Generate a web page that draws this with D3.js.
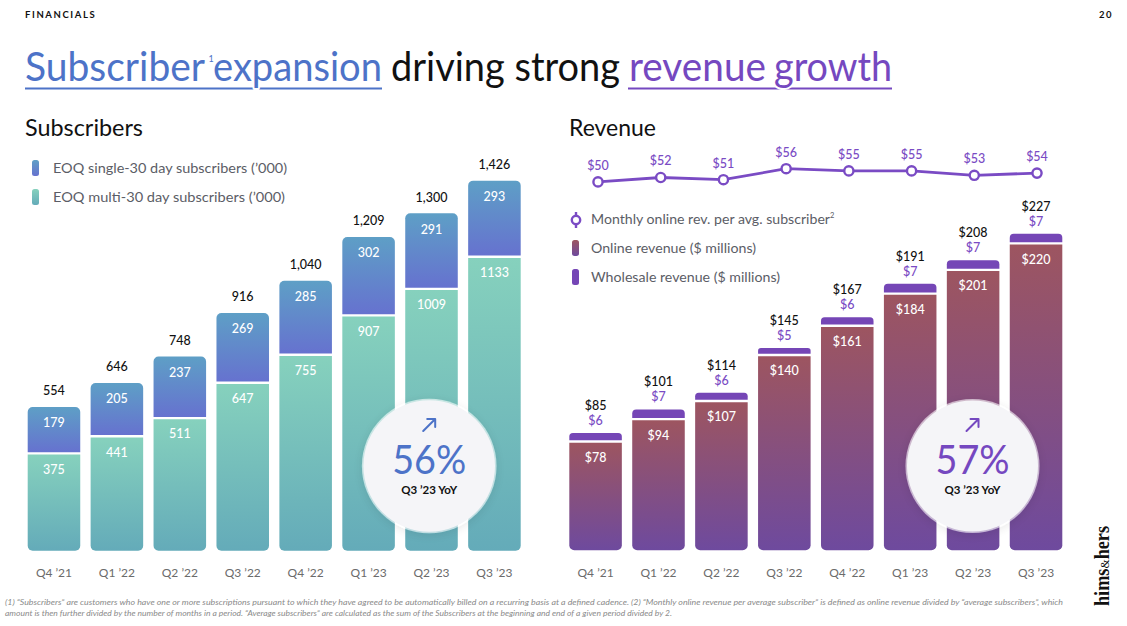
<!DOCTYPE html>
<html>
<head>
<meta charset="utf-8">
<script src="https://cdn.jsdelivr.net/npm/d3@7"></script>
<style>
  html, body { margin: 0; padding: 0; background: #fff; }
  svg { display: block; font-family: "Lato", "Noto Sans", sans-serif; }
</style>
</head>
<body>
<svg id="chart" width="1127" height="626"></svg>
<script>
// ---------- DATA ----------
const quarters = ["Q4 ’21", "Q1 ’22", "Q2 ’22", "Q3 ’22", "Q4 ’22", "Q1 ’23", "Q2 ’23", "Q3 ’23"];
const multi30 = [375, 441, 511, 647, 755, 907, 1009, 1133];
const single30 = [179, 205, 237, 269, 285, 302, 291, 293];
const subTotals = [554, 646, 748, 916, 1040, 1209, 1300, 1426];
const onlineRev = [78, 94, 107, 140, 161, 184, 201, 220];
const wholesaleRev = [6, 7, 6, 5, 6, 7, 7, 7];
const revTotals = [85, 101, 114, 145, 167, 191, 208, 227];
const revPerSub = [50, 52, 51, 56, 55, 55, 53, 54];
const subYoY = "56%";
const revYoY = "57%";

// ---------- SETUP ----------
const svg = d3.select("#chart");
const defs = svg.append("defs");
const BLUE = "#4d73c8", PURPLE = "#7548c0", LINEP = "#7a4bc4";

function grad(id, top, bot) {
  const g = defs.append("linearGradient").attr("id", id)
    .attr("x1", 0).attr("y1", 0).attr("x2", 0).attr("y2", 1);
  g.append("stop").attr("offset", "0%").attr("stop-color", top);
  g.append("stop").attr("offset", "100%").attr("stop-color", bot);
}
grad("gSingle", "#5e9fc6", "#6672cf");
grad("gMulti", "#86d1bd", "#64abb9");
grad("gOnline", "#9d5560", "#6e4a9e");
const sh = defs.append("filter").attr("id", "shadow").attr("x", "-30%").attr("y", "-30%").attr("width", "160%").attr("height", "160%");
sh.append("feDropShadow").attr("dx", 0).attr("dy", 2).attr("stdDeviation", 5)
  .attr("flood-color", "#000").attr("flood-opacity", 0.15);

function rpath(x, y, w, h, rt, rb) {
  rt = Math.min(rt, h / 2); rb = Math.min(rb, h / 2);
  return `M${x},${y + rt}` +
    (rt ? `A${rt},${rt} 0 0 1 ${x + rt},${y}` : "") +
    `H${x + w - rt}` +
    (rt ? `A${rt},${rt} 0 0 1 ${x + w},${y + rt}` : "") +
    `V${y + h - rb}` +
    (rb ? `A${rb},${rb} 0 0 1 ${x + w - rb},${y + h}` : "") +
    `H${x + rb}` +
    (rb ? `A${rb},${rb} 0 0 1 ${x},${y + h - rb}` : "") + "Z";
}

function fit(sel, w) {
  sel.attr("textLength", w).attr("lengthAdjust", "spacingAndGlyphs");
  return sel;
}

// ---------- HEADER ----------
svg.append("text").attr("x", 25).attr("y", 18).text("FINANCIALS")
  .attr("font-size", 9.5).attr("font-weight", 700).attr("fill", "#111")
  .attr("letter-spacing", 1.6);
svg.append("text").attr("x", 1113).attr("y", 18).attr("text-anchor", "end").text("20")
  .attr("font-size", 9.5).attr("font-weight", 700).attr("fill", "#111").attr("letter-spacing", 1.5);

// Title
const tY = 81;
svg.append("rect").attr("x", 25).attr("y", 87.5).attr("width", 357).attr("height", 2).attr("fill", BLUE);
svg.append("rect").attr("x", 628).attr("y", 87.5).attr("width", 264).attr("height", 2).attr("fill", PURPLE);
const titleParts = [
  { t: "Subscriber", x: 25, w: 180, c: BLUE },
  { t: "expansion", x: 213, w: 169, c: BLUE },
  { t: "driving strong", x: 391, w: 229, c: "#111" },
  { t: "revenue", x: 629, w: 137, c: PURPLE },
  { t: "growth", x: 774, w: 118, c: PURPLE }
];
titleParts.forEach(p => {
  fit(svg.append("text").attr("x", p.x).attr("y", tY).text(p.t)
    .attr("font-size", 40).attr("font-weight", 400).attr("fill", p.c)
    .attr("stroke", "#fff").attr("stroke-width", 4).attr("paint-order", "stroke")
    .attr("stroke-linejoin", "round"), p.w);
});
svg.append("text").attr("x", 208.5).attr("y", 62).text("1").attr("font-size", 9).attr("fill", BLUE);

// Section titles
fit(svg.append("text").attr("x", 25).attr("y", 136).text("Subscribers")
  .attr("font-size", 23).attr("font-weight", 400).attr("fill", "#111"), 118);
fit(svg.append("text").attr("x", 569).attr("y", 136).text("Revenue")
  .attr("font-size", 23).attr("font-weight", 400).attr("fill", "#111"), 87);

// ---------- SUBSCRIBERS CHART ----------
const xS = d3.scaleBand().domain(quarters).range([27.7, 520.7]).paddingInner(0.165).paddingOuter(0);
const yS = d3.scaleLinear().domain([0, 1426]).range([550.7, 550.7 - 1426 * 0.2595]);
const R = 5, GAP = 1.2;

const gS = svg.append("g");
quarters.forEach((q, i) => {
  const x = xS(q), w = xS.bandwidth();
  const yb = yS(multi30[i]);
  gS.append("path").attr("d", rpath(x, yb + GAP, w, yS(0) - yb - GAP, 0, R)).attr("fill", "url(#gMulti)");
  const yt = yS(multi30[i] + single30[i]);
  gS.append("path").attr("d", rpath(x, yt, w, yb - GAP - yt, R, 0)).attr("fill", "url(#gSingle)");
  gS.append("text").attr("x", x + w / 2).attr("y", yb + 16).attr("dy", "0.35em")
    .attr("text-anchor", "middle").attr("fill", "#fff").attr("font-size", 12.5).attr("font-weight", 500)
    .text(multi30[i]);
  gS.append("text").attr("x", x + w / 2).attr("y", yt + 16).attr("dy", "0.35em")
    .attr("text-anchor", "middle").attr("fill", "#fff").attr("font-size", 12.5).attr("font-weight", 500)
    .text(single30[i]);
  gS.append("text").attr("x", x + w / 2).attr("y", yt - 16).attr("dy", "0.35em")
    .attr("text-anchor", "middle").attr("fill", "#111").attr("font-size", 12.5).attr("font-weight", 500)
    .text(d3.format(",")(subTotals[i]));
});

const axS = svg.append("g").attr("transform", "translate(0,568.5)")
  .call(d3.axisBottom(xS).tickSize(0).tickPadding(0));
axS.select(".domain").remove();
axS.selectAll("text").attr("font-size", 12).attr("fill", "#6b6b6b").attr("font-family", "Lato, sans-serif");

// Left legend
const legS = [
  { t: "EOQ single-30 day subscribers (’000)", y: 168, f: "url(#gSingle)", w: 234 },
  { t: "EOQ multi-30 day subscribers  (’000)", y: 197, f: "url(#gMulti)", w: 232 }
];
legS.forEach(l => {
  svg.append("rect").attr("x", 32).attr("y", l.y - 8).attr("width", 7).attr("height", 16).attr("rx", 2.5).attr("fill", l.f);
  fit(svg.append("text").attr("x", 53).attr("y", l.y).attr("dy", "0.35em").text(l.t)
    .attr("font-size", 14).attr("fill", "#5b5d66"), l.w);
});

// ---------- REVENUE CHART ----------
const xR = d3.scaleBand().domain(quarters).range([569.3, 1062.3]).paddingInner(0.165).paddingOuter(0);
const yR = d3.scaleLinear().domain([0, 227]).range([550.3, 550.3 - 227 * 1.395]);
const gR = svg.append("g");
quarters.forEach((q, i) => {
  const x = xR(q), w = xR.bandwidth();
  const yb = yR(onlineRev[i]);
  gR.append("path").attr("d", rpath(x, yb + GAP, w, yR(0) - yb - GAP, 0, R)).attr("fill", "url(#gOnline)");
  const yt = yR(onlineRev[i] + wholesaleRev[i]);
  gR.append("path").attr("d", rpath(x, yt, w, yb - GAP - yt, 4, 0)).attr("fill", "#7546b6");
  gR.append("text").attr("x", x + w / 2).attr("y", yb + 16).attr("dy", "0.35em")
    .attr("text-anchor", "middle").attr("fill", "#fff").attr("font-size", 12.5).attr("font-weight", 500)
    .text("$" + onlineRev[i]);
  gR.append("text").attr("x", x + w / 2).attr("y", yt - 12.5).attr("dy", "0.35em")
    .attr("text-anchor", "middle").attr("fill", "#7a4bc4").attr("font-size", 12.5).attr("font-weight", 500)
    .text("$" + wholesaleRev[i]);
  gR.append("text").attr("x", x + w / 2).attr("y", yt - 27.5).attr("dy", "0.35em")
    .attr("text-anchor", "middle").attr("fill", "#111").attr("font-size", 12.5).attr("font-weight", 500)
    .text("$" + revTotals[i]);
});
const axR = svg.append("g").attr("transform", "translate(0,568.5)")
  .call(d3.axisBottom(xR).tickSize(0).tickPadding(0));
axR.select(".domain").remove();
axR.selectAll("text").attr("font-size", 12).attr("fill", "#6b6b6b").attr("font-family", "Lato, sans-serif");

// Line: monthly revenue per subscriber
const xL = d3.scalePoint().domain(quarters).range([598, 1037]);
const yL = d3.scaleLinear().domain([50, 56]).range([181.9, 168.7]);
const line = d3.line().x((d, i) => xL(quarters[i])).y(d => yL(d));
svg.append("path").datum(revPerSub).attr("d", line).attr("fill", "none")
  .attr("stroke", LINEP).attr("stroke-width", 2.8);
svg.append("g").selectAll("circle").data(revPerSub).join("circle")
  .attr("cx", (d, i) => xL(quarters[i])).attr("cy", d => yL(d)).attr("r", 4.6)
  .attr("fill", "#fff").attr("stroke", LINEP).attr("stroke-width", 2.4);
svg.append("g").selectAll("text").data(revPerSub).join("text")
  .attr("x", (d, i) => xL(quarters[i])).attr("y", d => yL(d) - 16.5).attr("dy", "0.35em")
  .attr("text-anchor", "middle").attr("font-size", 12.5).attr("font-weight", 500).attr("fill", LINEP)
  .text(d => "$" + d);

// Right legend
const lg = svg.append("g");
lg.append("line").attr("x1", 576).attr("x2", 576).attr("y1", 212).attr("y2", 228).attr("stroke", LINEP).attr("stroke-width", 2.4);
lg.append("circle").attr("cx", 576).attr("cy", 220).attr("r", 4.2).attr("fill", "#fff").attr("stroke", LINEP).attr("stroke-width", 2.4);
const t1 = lg.append("text").attr("x", 591).attr("y", 219).attr("dy", "0.35em").attr("font-size", 14).attr("fill", "#5b5d66");
fit(t1.append("tspan").text("Monthly online rev. per avg. subscriber"), 239);
t1.append("tspan").attr("dy", -6).attr("font-size", 7.5).text("2");
lg.append("rect").attr("x", 572).attr("y", 240).attr("width", 7).attr("height", 16).attr("rx", 2.5).attr("fill", "url(#gOnline)");
fit(lg.append("text").attr("x", 591).attr("y", 248).attr("dy", "0.35em").attr("font-size", 14).attr("fill", "#5b5d66")
  .text("Online revenue ($ millions)"), 165);
lg.append("rect").attr("x", 572).attr("y", 269).attr("width", 7).attr("height", 16).attr("rx", 2.5).attr("fill", "#7546b6");
fit(lg.append("text").attr("x", 591).attr("y", 277).attr("dy", "0.35em").attr("font-size", 14).attr("fill", "#5b5d66")
  .text("Wholesale revenue ($ millions)"), 189);

// ---------- BADGES ----------
function badge(cx, cy, r, txt, col) {
  const g = svg.append("g");
  g.append("circle").attr("cx", cx).attr("cy", cy).attr("r", r + 1.5).attr("fill", "#fff").attr("opacity", 0.6).attr("filter", "url(#shadow)");
  g.append("circle").attr("cx", cx).attr("cy", cy).attr("r", r).attr("fill", "#f5f5f8");
  const ax = cx, ay = cy - 41;
  g.append("path").attr("d", `M${ax - 6},${ay + 6}L${ax + 6},${ay - 6}M${ax - 2},${ay - 6}H${ax + 6}V${ay + 2}`)
    .attr("fill", "none").attr("stroke", col).attr("stroke-width", 2).attr("stroke-linecap", "round").attr("stroke-linejoin", "round");
  fit(g.append("text").attr("x", cx - 37).attr("y", cy + 7.5).text(txt)
    .attr("font-size", 40).attr("font-weight", 400).attr("fill", col), 74);
  g.append("text").attr("x", cx).attr("y", cy + 24).attr("dy", "0.35em").attr("text-anchor", "middle")
    .attr("font-size", 11.5).attr("font-weight", 700).attr("fill", "#111").text("Q3 ’23 YoY");
}
badge(429.2, 466, 65.8, subYoY, BLUE);
badge(972.5, 466, 65.5, revYoY, PURPLE);

// ---------- FOOTNOTE ----------
const fn1 = "(1) “Subscribers” are customers who have one or more subscriptions pursuant to which they have agreed to be automatically billed on a recurring basis at a defined cadence. (2) “Monthly online revenue per average subscriber” is defined as online revenue divided by “average subscribers”, which";
const fn2 = "amount is then further divided by the number of months in a period. “Average subscribers” are calculated as the sum of the Subscribers at the beginning and end of a given period divided by 2.";
fit(svg.append("text").attr("x", 5).attr("y", 605).text(fn1).attr("font-size", 8.2).attr("font-style", "italic").attr("fill", "#8a8a8a"), 1058);
fit(svg.append("text").attr("x", 5).attr("y", 616).text(fn2).attr("font-size", 8.2).attr("font-style", "italic").attr("fill", "#8a8a8a"), 667);

// Logo
const logo = svg.append("text").attr("transform", "translate(1109,606) rotate(-90)")
  .attr("font-family", "'Liberation Serif', 'DejaVu Serif', serif").attr("font-size", 20).attr("font-weight", 700).attr("fill", "#111");
logo.append("tspan").text("hims");
logo.append("tspan").attr("font-size", 13).attr("font-weight", 400).text("&");
logo.append("tspan").text("hers");
fit(logo, 80);
</script>
</body>
</html>
